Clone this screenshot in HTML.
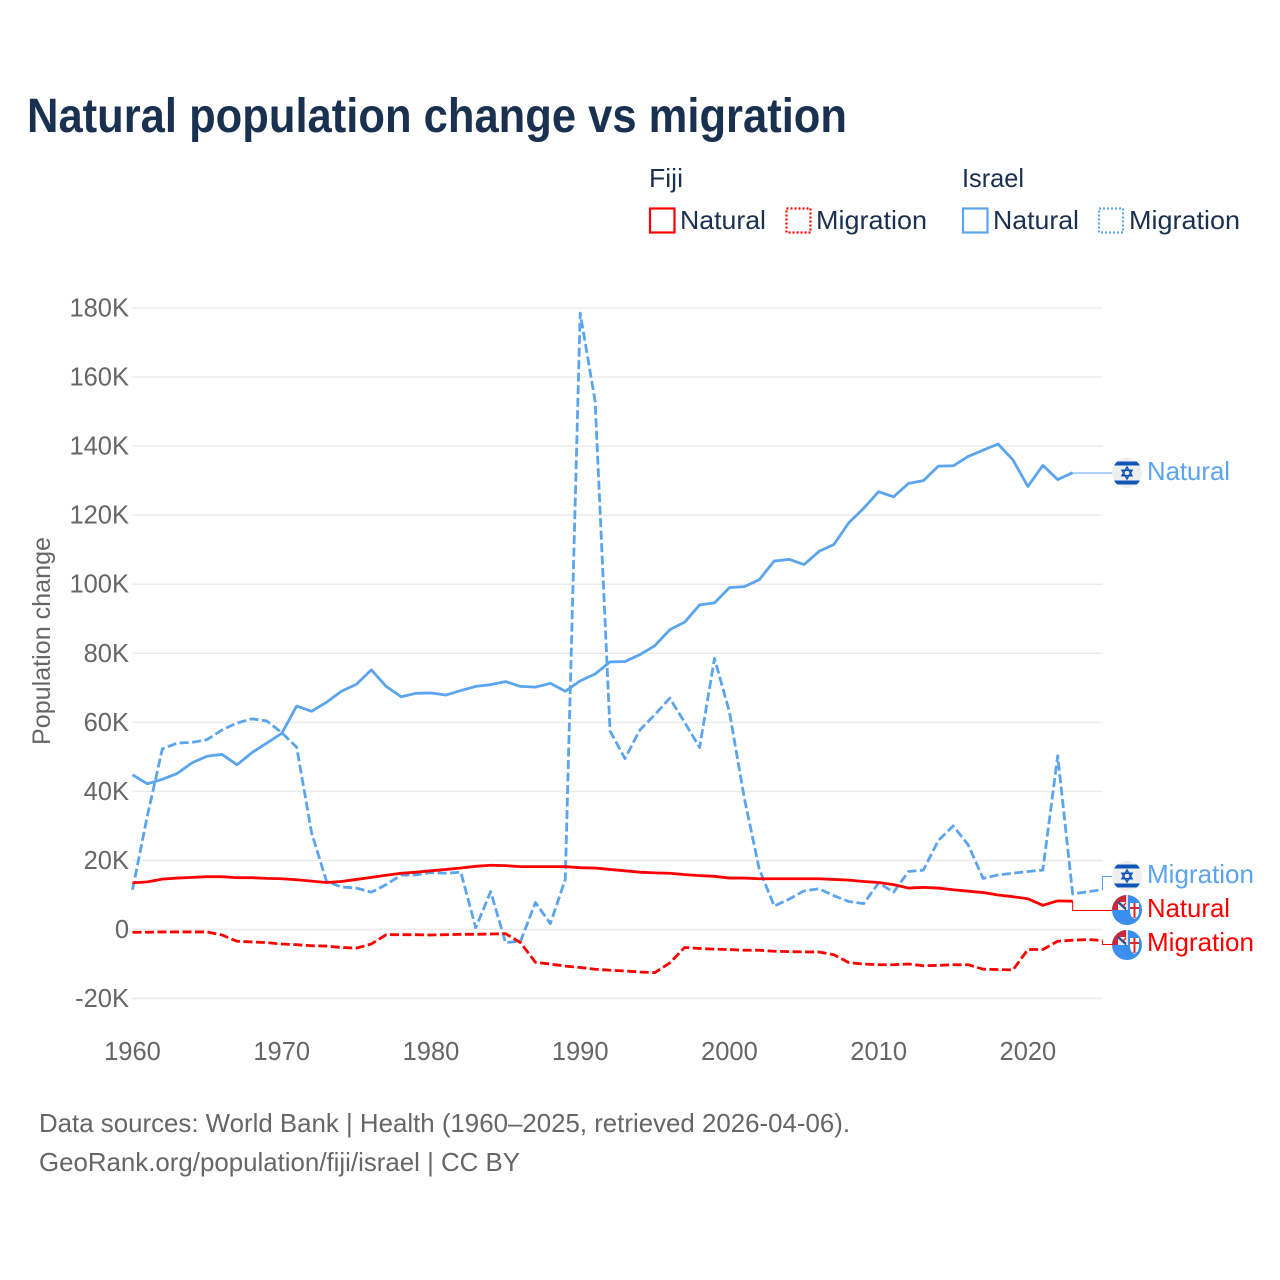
<!DOCTYPE html>
<html lang="en">
<head>
<meta charset="utf-8">
<title>Natural population change vs migration</title>
<style>
html,body{margin:0;padding:0;background:#fff;}
svg{display:block;font-family:"Liberation Sans",sans-serif;}
</style>
</head>
<body>
<svg id="chart" xmlns="http://www.w3.org/2000/svg" width="1280" height="1280" viewBox="0 0 1280 1280">
  <rect x="0" y="0" width="1280" height="1280" fill="#fff"/>
  <text x="27" y="132" font-size="48" font-weight="700" fill="#1a3050" textLength="820" lengthAdjust="spacingAndGlyphs">Natural population change vs migration</text>

  <g font-size="26" fill="#1a3050">
    <text x="649" y="187" textLength="34" lengthAdjust="spacingAndGlyphs">Fiji</text>
    <text x="962" y="187" textLength="62" lengthAdjust="spacingAndGlyphs">Israel</text>
    <rect x="650" y="208.500" width="24.500" height="24" fill="none" stroke="#ff0000" stroke-width="2.200"/>
    <text x="680" y="229" textLength="86" lengthAdjust="spacingAndGlyphs">Natural</text>
    <rect x="786.500" y="208.500" width="24" height="24" fill="none" stroke="#ff0000" stroke-width="2.200" stroke-dasharray="2 2"/>
    <text x="816" y="229" textLength="111" lengthAdjust="spacingAndGlyphs">Migration</text>
    <rect x="963" y="208.500" width="24.500" height="24" fill="none" stroke="#5ba4ee" stroke-width="2.200"/>
    <text x="993" y="229" textLength="86" lengthAdjust="spacingAndGlyphs">Natural</text>
    <rect x="1099" y="208.500" width="24" height="24" fill="none" stroke="#5ba4ee" stroke-width="2.200" stroke-dasharray="2 2"/>
    <text x="1129" y="229" textLength="111" lengthAdjust="spacingAndGlyphs">Migration</text>
  </g>

  <g id="grid"></g>
  <g id="yticks" font-size="25.500" fill="#666" text-anchor="end"></g>
  <g id="xticks" font-size="25.500" fill="#666" text-anchor="middle"></g>
  <text transform="translate(50,745) rotate(-90)" font-size="25" fill="#666" textLength="208" lengthAdjust="spacingAndGlyphs">Population change</text>

  <g id="series" fill="none" stroke-linejoin="round"></g>
  <g id="leaders" fill="none" stroke-width="1"></g>

  <defs>
    <clipPath id="flag-clip"><circle cx="0" cy="0" r="15"/></clipPath>
    <g id="flag-il">
      <g clip-path="url(#flag-clip)">
        <rect x="-15" y="-15" width="30" height="30" fill="#eeeeee"/>
        <rect x="-15" y="-11.500" width="30" height="4" fill="#0f55b5"/>
        <rect x="-15" y="7.500" width="30" height="4" fill="#0f55b5"/>
        <polygon points="0,-6 5,2.800 -5,2.800" fill="none" stroke="#0f55b5" stroke-width="1.500"/>
        <polygon points="0,6 5,-2.800 -5,-2.800" fill="none" stroke="#0f55b5" stroke-width="1.500"/>
      </g>
    </g>
    <g id="flag-fj">
      <g clip-path="url(#flag-clip)">
        <rect x="-15" y="-15" width="30" height="30" fill="#3a8fee"/>
        <rect x="-15" y="-15" width="15" height="15" fill="#c8283c"/>
        <rect x="-9" y="-8" width="9" height="8" fill="#eef0f5"/>
        <path d="M-9,-8 L0,0" stroke="#2a4f8f" stroke-width="2.500"/>
        <path d="M0,-8 L-4,-4" stroke="#c8283c" stroke-width="1.500"/>
        <rect x="-1" y="-15" width="2" height="15" fill="#f0d8dc"/>
        <path d="M3,-7 H12 V2 L11,6 L7.500,9 L4,6 L3,2 Z" fill="#fff"/>
        <path d="M7.500,-7 V8 M3,-2 H12" stroke="#e0252a" stroke-width="2"/>
      </g>
    </g>
  </defs>

  <g font-size="26">
    <use href="#flag-il" x="1127" y="473"/>
    <text x="1147" y="480" fill="#5ba4ee" textLength="83" lengthAdjust="spacingAndGlyphs">Natural</text>
    <use href="#flag-il" x="1127" y="876"/>
    <text x="1147" y="883" fill="#5ba4ee" textLength="107" lengthAdjust="spacingAndGlyphs">Migration</text>
    <use href="#flag-fj" x="1127" y="910"/>
    <text x="1147" y="917" fill="#ff0000" textLength="83" lengthAdjust="spacingAndGlyphs">Natural</text>
    <use href="#flag-fj" x="1127" y="945"/>
    <text x="1147" y="951" fill="#ff0000" textLength="107" lengthAdjust="spacingAndGlyphs">Migration</text>
  </g>

  <g font-size="26" fill="#666">
    <text x="39" y="1132" textLength="811" lengthAdjust="spacingAndGlyphs">Data sources: World Bank | Health (1960–2025, retrieved 2026-04-06).</text>
    <text x="39" y="1171" textLength="481" lengthAdjust="spacingAndGlyphs">GeoRank.org/population/fiji/israel | CC BY</text>
  </g>
</svg>

<script>
const startYear = 1960;
const yTickValues = [180, 160, 140, 120, 100, 80, 60, 40, 20, 0, -20];
const yTickLabels = ["180K", "160K", "140K", "120K", "100K", "80K", "60K", "40K", "20K", "0", "-20K"];
const xTickValues = [1960, 1970, 1980, 1990, 2000, 2010, 2020];
const xTickLabels = ["1960", "1970", "1980", "1990", "2000", "2010", "2020"];

const israelNatural = [44.8,42.2,43.5,45.2,48.3,50.2,50.7,47.7,51.2,54,56.8,64.7,63.2,65.8,69,71,75.2,70.4,67.4,68.4,68.5,67.9,69.2,70.4,70.9,71.8,70.4,70.2,71.3,69,72,74,77.5,77.6,79.6,82.2,86.8,89,94,94.6,99,99.3,101.3,106.7,107.2,105.7,109.5,111.5,117.8,122,126.8,125.3,129.2,130,134.2,134.3,137,138.8,140.6,136,128.3,134.4,130.3,132.3];
const israelMigration = [11.5,33,52.3,54,54.2,55,57.8,59.8,61,60.4,57,52.8,28,14,12.3,12,10.8,13,15.8,15.8,16.5,16.3,16.6,0.5,11,-3.8,-3.4,7.8,1.7,14.5,178.5,153,57.5,49.5,57.8,62.2,67,60,52.7,78.5,63,38,17.5,6.8,8.8,11.2,11.8,9.8,8.1,7.5,13.5,10.8,16.8,17.2,25.8,30,24.5,14.8,15.8,16.3,16.8,17.2,50.3,10.3,10.9,11.6];
const fijiNatural = [13.5,13.8,14.6,14.9,15.1,15.3,15.3,15,15,14.8,14.7,14.4,14,13.6,13.9,14.5,15.1,15.7,16.3,16.6,17,17.4,17.8,18.3,18.6,18.5,18.2,18.2,18.2,18.2,17.9,17.8,17.4,17,16.6,16.4,16.3,15.9,15.6,15.4,14.9,14.9,14.7,14.7,14.7,14.7,14.7,14.5,14.3,13.9,13.6,13,12,12.2,12,11.5,11.1,10.7,10,9.5,8.9,7,8.3,8.2];
const fijiMigration = [-0.8,-0.8,-0.7,-0.7,-0.7,-0.7,-1.6,-3.4,-3.6,-3.8,-4.2,-4.4,-4.7,-4.8,-5.2,-5.4,-4.2,-1.5,-1.5,-1.5,-1.6,-1.5,-1.4,-1.4,-1.3,-1.2,-3.8,-9.5,-10,-10.6,-11,-11.5,-11.8,-12,-12.3,-12.5,-9.7,-5.2,-5.5,-5.7,-5.8,-6,-6,-6.3,-6.4,-6.5,-6.5,-7.3,-9.6,-10,-10.2,-10.2,-10,-10.5,-10.4,-10.2,-10.2,-11.5,-11.6,-11.7,-5.8,-5.8,-3.4,-3.1,-2.9,-3.2];

const NS = "http://www.w3.org/2000/svg";
const plotLeft = 132.5, plotRight = 1102.5, yZero = 929.5;
const pxPerYear = (plotRight - plotLeft) / 65;
const pxPerK = 3.453;
function xScale(year) { return plotLeft + (year - 1960) * pxPerYear; }
function yScale(v) { return yZero - v * pxPerK; }
function linePath(values) {
  return values.map(function (v, i) {
    return (i ? "L" : "M") + xScale(startYear + i).toFixed(2) + "," + yScale(v).toFixed(2);
  }).join(" ");
}

const gridGroup = document.getElementById("grid");
const yTickGroup = document.getElementById("yticks");
yTickValues.forEach(function (v, i) {
  const gl = document.createElementNS(NS, "line");
  
  
  gl.setAttribute("x1", plotLeft);
  gl.setAttribute("x2", plotRight);
  gl.setAttribute("y1", yScale(v));
  gl.setAttribute("y2", yScale(v));
  gl.setAttribute("stroke", "#ebebeb");
  gl.setAttribute("stroke-width", "1.5");
  gridGroup.appendChild(gl);
  const t = document.createElementNS(NS, "text");
  
  
  t.setAttribute("x", 129);
  t.setAttribute("y", yScale(v) + 8.5);
  t.textContent = yTickLabels[i];
  yTickGroup.appendChild(t);
});

const xTickGroup = document.getElementById("xticks");
xTickValues.forEach(function (v, i) {
  const t = document.createElementNS(NS, "text");
  
  
  t.setAttribute("x", xScale(v));
  t.setAttribute("y", 1060);
  t.textContent = xTickLabels[i];
  xTickGroup.appendChild(t);
});

const seriesGroup = document.getElementById("series");
function addSeries(values, color, dashed, name) {
  const p = document.createElementNS(NS, "path");
  
  
  p.setAttribute("d", linePath(values));
  p.setAttribute("stroke", color);
  p.setAttribute("stroke-width", "2.8");
  if (dashed) p.setAttribute("stroke-dasharray", "9 3.5");
  seriesGroup.appendChild(p);
}
addSeries(israelNatural, "#5ba4ee", false, "line-israel-natural");
addSeries(israelMigration, "#5ba4ee", true, "line-israel-migration");
addSeries(fijiNatural, "#ff0000", false, "line-fiji-natural");
addSeries(fijiMigration, "#ff0000", true, "line-fiji-migration");

const leaderGroup = document.getElementById("leaders");
function addLeader(values, color, labelY, name) {
  const last = values.length - 1;
  const x0 = xScale(startYear + last);
  const y0 = yScale(values[last]);
  const p = document.createElementNS(NS, "path");
  
  
  p.setAttribute("d", "M" + x0 + "," + y0 + " V" + labelY + " H1112");
  p.setAttribute("stroke", color);
  leaderGroup.appendChild(p);
}
addLeader(israelNatural, "#5ba4ee", 473, "leader-israel-natural");
addLeader(israelMigration, "#5ba4ee", 876.5, "leader-israel-migration");
addLeader(fijiNatural, "#ff0000", 910.5, "leader-fiji-natural");
addLeader(fijiMigration, "#ff0000", 944.5, "leader-fiji-migration");
</script>
</body>
</html>
